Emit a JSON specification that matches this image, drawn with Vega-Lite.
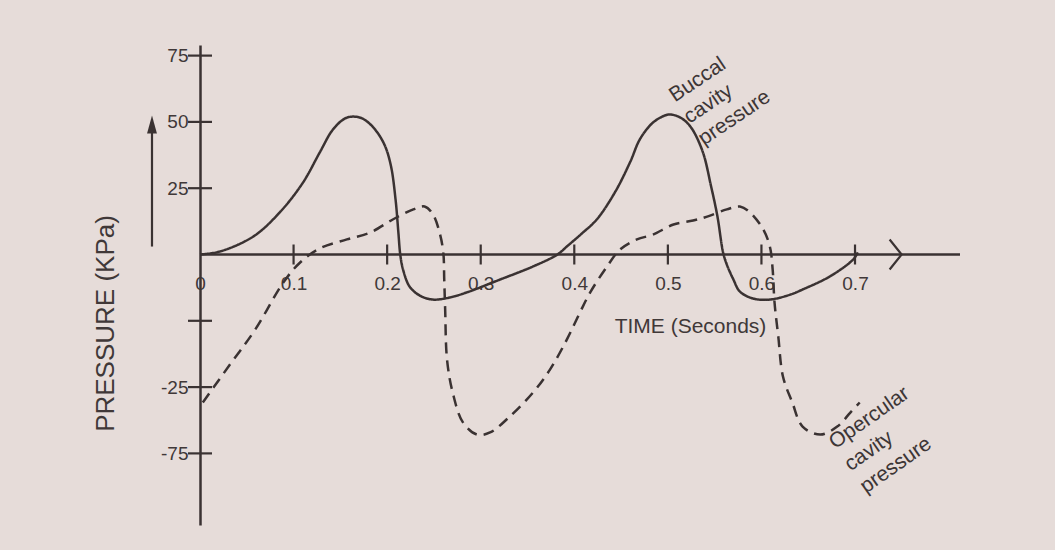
{
  "$schema": "https://vega.github.io/schema/vega-lite/v6.json",
  "width": 760,
  "height": 480,
  "autosize": {"type": "none"},
  "padding": {"left": 200, "top": 45, "right": 95, "bottom": 25},
  "background": "#e6dcd9",
  "config": {"view": {"stroke": null}, "font": "Liberation Sans"},
  "datasets": {
    "curves": [
      {"series": "Buccal cavity pressure", "t": 0.000, "p": 0.0},
      {"series": "Buccal cavity pressure", "t": 0.021, "p": 1.1},
      {"series": "Buccal cavity pressure", "t": 0.057, "p": 6.8},
      {"series": "Buccal cavity pressure", "t": 0.085, "p": 15.8},
      {"series": "Buccal cavity pressure", "t": 0.110, "p": 27.1},
      {"series": "Buccal cavity pressure", "t": 0.128, "p": 38.5},
      {"series": "Buccal cavity pressure", "t": 0.142, "p": 47.1},
      {"series": "Buccal cavity pressure", "t": 0.155, "p": 51.3},
      {"series": "Buccal cavity pressure", "t": 0.164, "p": 52.0},
      {"series": "Buccal cavity pressure", "t": 0.174, "p": 51.2},
      {"series": "Buccal cavity pressure", "t": 0.186, "p": 47.6},
      {"series": "Buccal cavity pressure", "t": 0.197, "p": 41.5},
      {"series": "Buccal cavity pressure", "t": 0.204, "p": 33.5},
      {"series": "Buccal cavity pressure", "t": 0.209, "p": 20.7},
      {"series": "Buccal cavity pressure", "t": 0.212, "p": 8.3},
      {"series": "Buccal cavity pressure", "t": 0.214, "p": 0.0},
      {"series": "Buccal cavity pressure", "t": 0.217, "p": -5.7},
      {"series": "Buccal cavity pressure", "t": 0.224, "p": -12.1},
      {"series": "Buccal cavity pressure", "t": 0.235, "p": -15.5},
      {"series": "Buccal cavity pressure", "t": 0.249, "p": -17.0},
      {"series": "Buccal cavity pressure", "t": 0.267, "p": -16.2},
      {"series": "Buccal cavity pressure", "t": 0.285, "p": -14.3},
      {"series": "Buccal cavity pressure", "t": 0.321, "p": -9.4},
      {"series": "Buccal cavity pressure", "t": 0.356, "p": -4.5},
      {"series": "Buccal cavity pressure", "t": 0.382, "p": 0.0},
      {"series": "Buccal cavity pressure", "t": 0.392, "p": 3.0},
      {"series": "Buccal cavity pressure", "t": 0.408, "p": 7.9},
      {"series": "Buccal cavity pressure", "t": 0.424, "p": 13.2},
      {"series": "Buccal cavity pressure", "t": 0.444, "p": 23.8},
      {"series": "Buccal cavity pressure", "t": 0.460, "p": 35.1},
      {"series": "Buccal cavity pressure", "t": 0.470, "p": 43.4},
      {"series": "Buccal cavity pressure", "t": 0.483, "p": 49.4},
      {"series": "Buccal cavity pressure", "t": 0.494, "p": 52.0},
      {"series": "Buccal cavity pressure", "t": 0.502, "p": 52.8},
      {"series": "Buccal cavity pressure", "t": 0.513, "p": 51.7},
      {"series": "Buccal cavity pressure", "t": 0.524, "p": 48.3},
      {"series": "Buccal cavity pressure", "t": 0.537, "p": 39.0},
      {"series": "Buccal cavity pressure", "t": 0.546, "p": 26.0},
      {"series": "Buccal cavity pressure", "t": 0.553, "p": 14.3},
      {"series": "Buccal cavity pressure", "t": 0.559, "p": 0.8},
      {"series": "Buccal cavity pressure", "t": 0.563, "p": -3.8},
      {"series": "Buccal cavity pressure", "t": 0.570, "p": -9.4},
      {"series": "Buccal cavity pressure", "t": 0.577, "p": -14.0},
      {"series": "Buccal cavity pressure", "t": 0.591, "p": -16.6},
      {"series": "Buccal cavity pressure", "t": 0.609, "p": -17.0},
      {"series": "Buccal cavity pressure", "t": 0.631, "p": -15.1},
      {"series": "Buccal cavity pressure", "t": 0.644, "p": -13.2},
      {"series": "Buccal cavity pressure", "t": 0.673, "p": -8.3},
      {"series": "Buccal cavity pressure", "t": 0.698, "p": -1.9},
      {"series": "Buccal cavity pressure", "t": 0.703, "p": 0.8},
      {"series": "Opercular cavity pressure", "t": 0.003, "p": -55.8},
      {"series": "Opercular cavity pressure", "t": 0.032, "p": -41.5},
      {"series": "Opercular cavity pressure", "t": 0.059, "p": -28.3},
      {"series": "Opercular cavity pressure", "t": 0.089, "p": -10.6},
      {"series": "Opercular cavity pressure", "t": 0.107, "p": -3.0},
      {"series": "Opercular cavity pressure", "t": 0.128, "p": 2.3},
      {"series": "Opercular cavity pressure", "t": 0.157, "p": 5.7},
      {"series": "Opercular cavity pressure", "t": 0.182, "p": 8.3},
      {"series": "Opercular cavity pressure", "t": 0.206, "p": 13.2},
      {"series": "Opercular cavity pressure", "t": 0.228, "p": 17.0},
      {"series": "Opercular cavity pressure", "t": 0.240, "p": 18.1},
      {"series": "Opercular cavity pressure", "t": 0.249, "p": 15.1},
      {"series": "Opercular cavity pressure", "t": 0.256, "p": 8.3},
      {"series": "Opercular cavity pressure", "t": 0.260, "p": 0.8},
      {"series": "Opercular cavity pressure", "t": 0.261, "p": -9.4},
      {"series": "Opercular cavity pressure", "t": 0.262, "p": -20.7},
      {"series": "Opercular cavity pressure", "t": 0.264, "p": -39.6},
      {"series": "Opercular cavity pressure", "t": 0.270, "p": -52.0},
      {"series": "Opercular cavity pressure", "t": 0.281, "p": -63.3},
      {"series": "Opercular cavity pressure", "t": 0.296, "p": -67.9},
      {"series": "Opercular cavity pressure", "t": 0.310, "p": -67.1},
      {"series": "Opercular cavity pressure", "t": 0.331, "p": -61.1},
      {"series": "Opercular cavity pressure", "t": 0.356, "p": -52.0},
      {"series": "Opercular cavity pressure", "t": 0.374, "p": -43.4},
      {"series": "Opercular cavity pressure", "t": 0.392, "p": -32.1},
      {"series": "Opercular cavity pressure", "t": 0.406, "p": -21.9},
      {"series": "Opercular cavity pressure", "t": 0.417, "p": -14.3},
      {"series": "Opercular cavity pressure", "t": 0.435, "p": -4.5},
      {"series": "Opercular cavity pressure", "t": 0.449, "p": 1.9},
      {"series": "Opercular cavity pressure", "t": 0.467, "p": 5.7},
      {"series": "Opercular cavity pressure", "t": 0.484, "p": 7.5},
      {"series": "Opercular cavity pressure", "t": 0.506, "p": 11.3},
      {"series": "Opercular cavity pressure", "t": 0.527, "p": 12.8},
      {"series": "Opercular cavity pressure", "t": 0.542, "p": 14.3},
      {"series": "Opercular cavity pressure", "t": 0.563, "p": 17.0},
      {"series": "Opercular cavity pressure", "t": 0.577, "p": 18.1},
      {"series": "Opercular cavity pressure", "t": 0.588, "p": 15.8},
      {"series": "Opercular cavity pressure", "t": 0.602, "p": 9.4},
      {"series": "Opercular cavity pressure", "t": 0.609, "p": 3.0},
      {"series": "Opercular cavity pressure", "t": 0.612, "p": -5.7},
      {"series": "Opercular cavity pressure", "t": 0.614, "p": -18.1},
      {"series": "Opercular cavity pressure", "t": 0.618, "p": -30.9},
      {"series": "Opercular cavity pressure", "t": 0.623, "p": -46.0},
      {"series": "Opercular cavity pressure", "t": 0.633, "p": -55.8},
      {"series": "Opercular cavity pressure", "t": 0.644, "p": -64.9},
      {"series": "Opercular cavity pressure", "t": 0.663, "p": -67.9},
      {"series": "Opercular cavity pressure", "t": 0.681, "p": -64.9},
      {"series": "Opercular cavity pressure", "t": 0.695, "p": -59.6},
      {"series": "Opercular cavity pressure", "t": 0.705, "p": -55.8}
    ],
    "xticks": [{"t": 0.1}, {"t": 0.2}, {"t": 0.3}, {"t": 0.4}, {"t": 0.5}, {"t": 0.6}, {"t": 0.7}],
    "yticks": [{"p": 75}, {"p": 50}, {"p": 25}, {"p": -25}, {"p": -50}, {"p": -75}]
  },
  "layer": [
    {
      "data": {"name": "curves"},
      "mark": {"type": "line", "interpolate": "catmull-rom", "strokeWidth": 2.5, "color": "#3a3232"},
      "encoding": {
        "x": {
          "field": "t", "type": "quantitative",
          "scale": {"domain": [0, 0.8122], "nice": false, "zero": false},
          "axis": {
            "title": "TIME (Seconds)", "orient": "bottom", "offset": -270.5,
            "values": [0, 0.1, 0.2, 0.3, 0.4, 0.5, 0.6, 0.7], "format": ".1~f",
            "domain": false, "ticks": false, "grid": false,
            "labelPadding": 20, "labelFontSize": 19, "labelColor": "#403838", "labelFont": "Liberation Sans",
            "labelFlush": false, "labelOverlap": false,
            "titleFont": "Liberation Sans", "titleFontSize": 21, "titleFontWeight": "normal", "titleColor": "#403838",
            "titleX": 490, "titleY": 72, "titleAlign": "center", "titleBaseline": "middle"
          }
        },
        "y": {
          "field": "p", "type": "quantitative",
          "scale": {"domain": [-102, 79], "nice": false, "zero": false},
          "axis": {
            "title": "PRESSURE (KPa)",
            "values": [75, 50, 25, -25, -50, -75],
            "labelExpr": "datum.value == -25 ? '' : datum.value == -50 ? '-25' : datum.value == -75 ? '-75' : datum.label",
            "domain": true, "domainColor": "#3a3232", "domainWidth": 2.5,
            "ticks": false, "grid": false,
            "labelPadding": 12, "labelFontSize": 19, "labelColor": "#403838", "labelFont": "Liberation Sans",
            "labelFlush": false, "labelOverlap": false,
            "titleFont": "Liberation Sans", "titleFontSize": 26, "titleFontWeight": "normal", "titleColor": "#403838",
            "titleX": -95, "titleY": 278, "titleAngle": -90, "titleAlign": "center", "titleBaseline": "middle"
          }
        },
        "strokeDash": {
          "field": "series", "type": "nominal",
          "scale": {"domain": ["Buccal cavity pressure", "Opercular cavity pressure"], "range": [[1, 0], [11, 7]]},
          "legend": null
        }
      }
    },
    {
      "data": {"values": [{}]},
      "mark": {"type": "rule", "strokeWidth": 2.5, "color": "#3a3232"},
      "encoding": {"y": {"datum": 0}}
    },
    {
      "data": {"name": "xticks"},
      "mark": {"type": "tick", "orient": "vertical", "size": 20, "thickness": 2.2, "color": "#3a3232", "opacity": 1},
      "encoding": {"x": {"field": "t", "type": "quantitative"}, "y": {"datum": 0}}
    },
    {
      "data": {"name": "yticks"},
      "mark": {"type": "tick", "orient": "horizontal", "size": 24, "thickness": 2.2, "color": "#3a3232", "opacity": 1},
      "encoding": {"y": {"field": "p", "type": "quantitative"}, "x": {"datum": 0}}
    },
    {
      "data": {"values": [{}]},
      "mark": {"type": "point", "shape": "M-0.5,-1L0.3,0L-0.5,1", "filled": false, "size": 900, "strokeWidth": 2.2, "color": "#3a3232", "opacity": 1},
      "encoding": {"x": {"datum": 0.745}, "y": {"datum": 0}}
    },
    {
      "data": {"values": [{}]},
      "mark": {"type": "rule", "strokeWidth": 2.2, "color": "#3a3232"},
      "encoding": {"x": {"datum": -0.0513}, "y": {"datum": 3}, "y2": {"datum": 49}}
    },
    {
      "data": {"values": [{}]},
      "mark": {"type": "point", "shape": "M-0.55,1L0,-1L0.55,1Z", "filled": true, "size": 324, "color": "#3a3232", "opacity": 1},
      "encoding": {"x": {"datum": -0.0513}, "y": {"datum": 49}}
    },
    {
      "data": {"values": [{}]},
      "mark": {"type": "text", "text": ["Buccal", "cavity", "pressure"], "angle": -34, "align": "left", "baseline": "alphabetic", "fontSize": 21, "lineHeight": 26, "font": "Liberation Sans", "color": "#3d3636"},
      "encoding": {"x": {"datum": 0.5076}, "y": {"datum": 57.3}}
    },
    {
      "data": {"values": [{}]},
      "mark": {"type": "text", "text": ["Opercular", "cavity", "pressure"], "angle": -35, "align": "left", "baseline": "alphabetic", "fontSize": 21, "lineHeight": 27, "font": "Liberation Sans", "color": "#3d3636"},
      "encoding": {"x": {"datum": 0.6786}, "y": {"datum": -73.5}}
    }
  ]
}
